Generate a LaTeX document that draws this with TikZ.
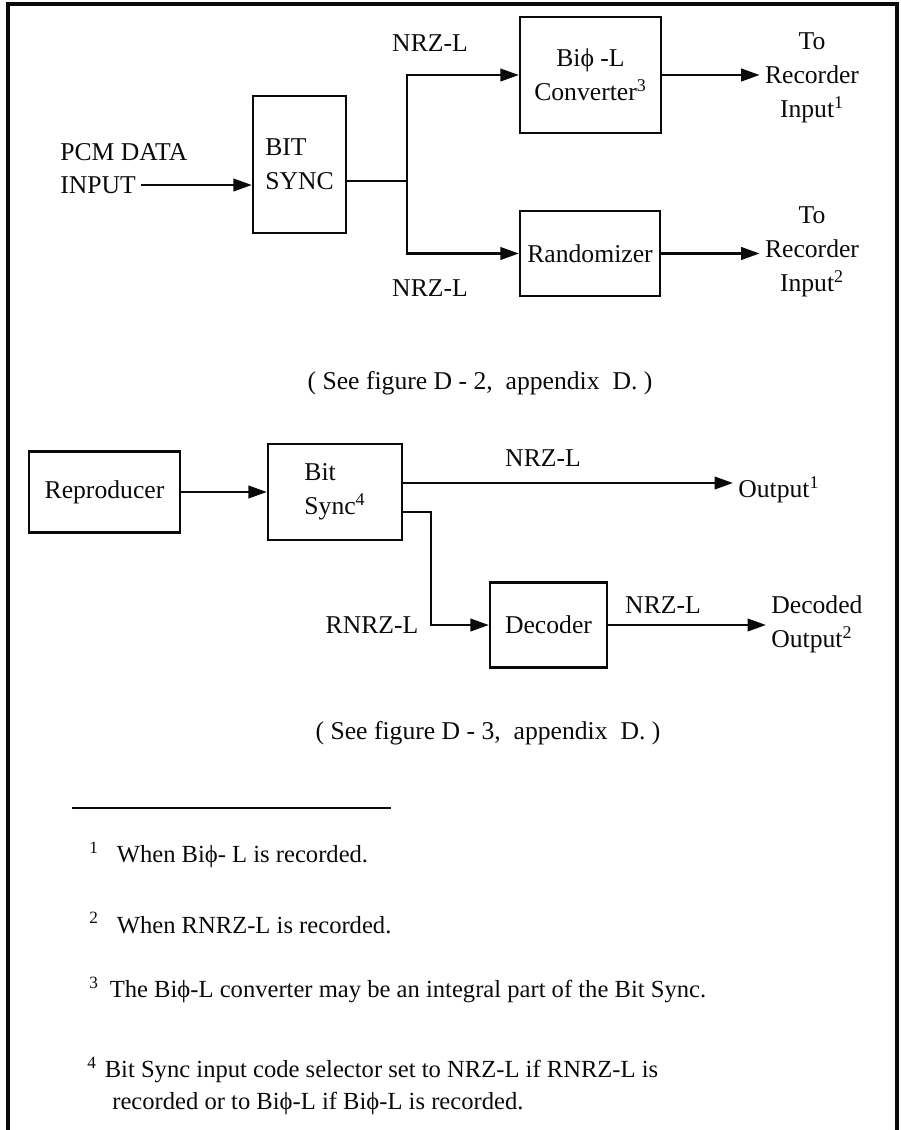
\documentclass[tikz,border=0pt]{standalone}
\usepackage{fontspec}
\setmainfont{Liberation Serif}
\usetikzlibrary{arrows.meta,positioning,calc}
\definecolor{ink}{HTML}{0A0A0A}

\tikzset{
  blk/.style={draw=ink,line width=1.3pt,text=ink,align=left,inner sep=0pt},
  lbl/.style={text=ink,inner sep=0.1cm},
  fnote/.style={text=ink,inner sep=0.1cm,anchor=west,align=left,font=\fontsize{14}{18.5}\selectfont},
  wire/.style={draw=ink,line width=1.4pt},
  flow/.style={wire,-{Triangle[length=0.37cm,width=0.25cm]}}
}

\begin{document}
\begin{tikzpicture}[x=0.02cm,y=-0.02cm,font=\fontsize{14.6}{19.5}\selectfont]
\useasboundingbox (0,0) rectangle (901,1130);
\draw[ink,line width=2pt] (8,1130) -- (8,4) -- (897,4) -- (897,1130);

% recording chain
\node[blk,minimum width=1.86cm,minimum height=2.74cm] (bitsync) at (299.5,164.5) {BIT\\SYNC};
\node[blk,minimum width=2.82cm,minimum height=2.32cm,align=center] (biphi) at (590.5,75) {Biϕ -L\\Converter\textsuperscript{3}};
\node[blk,minimum width=2.80cm,minimum height=1.70cm] (rand) at (590,253.5) {Randomizer};
\node[lbl,anchor=west] (pcm) at (55,152) {PCM DATA};
\node[lbl,anchor=west] (inp) at (55,185) {INPUT};
\node[lbl] (nrza) at (430,43) {NRZ-L};
\node[lbl] (nrzb) at (430,288) {NRZ-L};
\node[lbl,align=center] (rec1) at (812,78) {To\\Recorder\\Input\textsuperscript{1}};
\node[lbl,align=center] (rec2) at (812,252) {To\\Recorder\\Input\textsuperscript{2}};
\coordinate (split) at (407,181);

\draw[flow] (inp.east) -- (inp.east -| bitsync.west);
\draw[wire] (bitsync.east |- split) -- (split);
\draw[flow] (split) |- (biphi.west);
\draw[flow] (split) |- (rand.west);
\draw[flow] (biphi.east) -- (biphi.east -| rec1.west);
\draw[flow] (rand.east) -- (rand.east -| rec2.west);

\node[lbl] (seea) at (480,383) {( See figure D - 2,\ \ appendix\ \ D. )};

% playback chain
\node[blk,minimum width=3.02cm,minimum height=1.62cm] (repro) at (104.5,492) {Reproducer};
\node[blk,minimum width=2.68cm,minimum height=1.92cm] (bitsync2) at (335,492) {Bit\\Sync\textsuperscript{4}};
\node[blk,minimum width=2.34cm,minimum height=1.70cm] (decoder) at (548.5,625) {Decoder};
\node[lbl] (nrzc) at (543,458) {NRZ-L};
\node[lbl] (nrzd) at (663,605) {NRZ-L};
\node[lbl] (rnrz) at (372,625) {RNRZ-L};
\node[lbl,anchor=west] (out1) at (733,490) {Output\textsuperscript{1}};
\node[lbl,anchor=west,align=left] (decout) at (766,624) {Decoded\\Output\textsuperscript{2}};
\coordinate (bs2a) at ([yshift=0.18cm]bitsync2.east);
\coordinate (bs2b) at ([yshift=-0.40cm]bitsync2.east);
\coordinate (bend) at (431,625);

\draw[flow] (repro.east) -- (bitsync2.west);
\draw[flow] (bs2a) -- (bs2a -| out1.west);
\draw[flow] (bs2b) -| (bend) -- (decoder.west);
\draw[flow] (decoder.east) -- (decoder.east -| decout.west);

\node[lbl] (seeb) at (488,733) {( See figure D - 3,\ \ appendix\ \ D. )};

% footnotes
\draw[ink,line width=1.4pt] (72,808) -- (391,808);
\node[fnote] (fn1) at (84,855) {\textsuperscript{1}\hspace{0.36cm}When Biϕ- L is recorded.};
\node[fnote] (fn2) at (84,923) {\textsuperscript{2}\hspace{0.36cm}When RNRZ-L is recorded.};
\node[fnote] (fn3) at (84,990) {\textsuperscript{3}\hspace{0.22cm}The Biϕ-L converter may be an integral part of the Bit Sync.};
\node[fnote] (fn4) at (82,1086) {\textsuperscript{4}\hspace{0.16cm}Bit Sync input code selector set to NRZ-L if RNRZ-L is\\\hspace*{0.5cm}recorded or to Biϕ-L if Biϕ-L is recorded.};
\end{tikzpicture}
\end{document}
